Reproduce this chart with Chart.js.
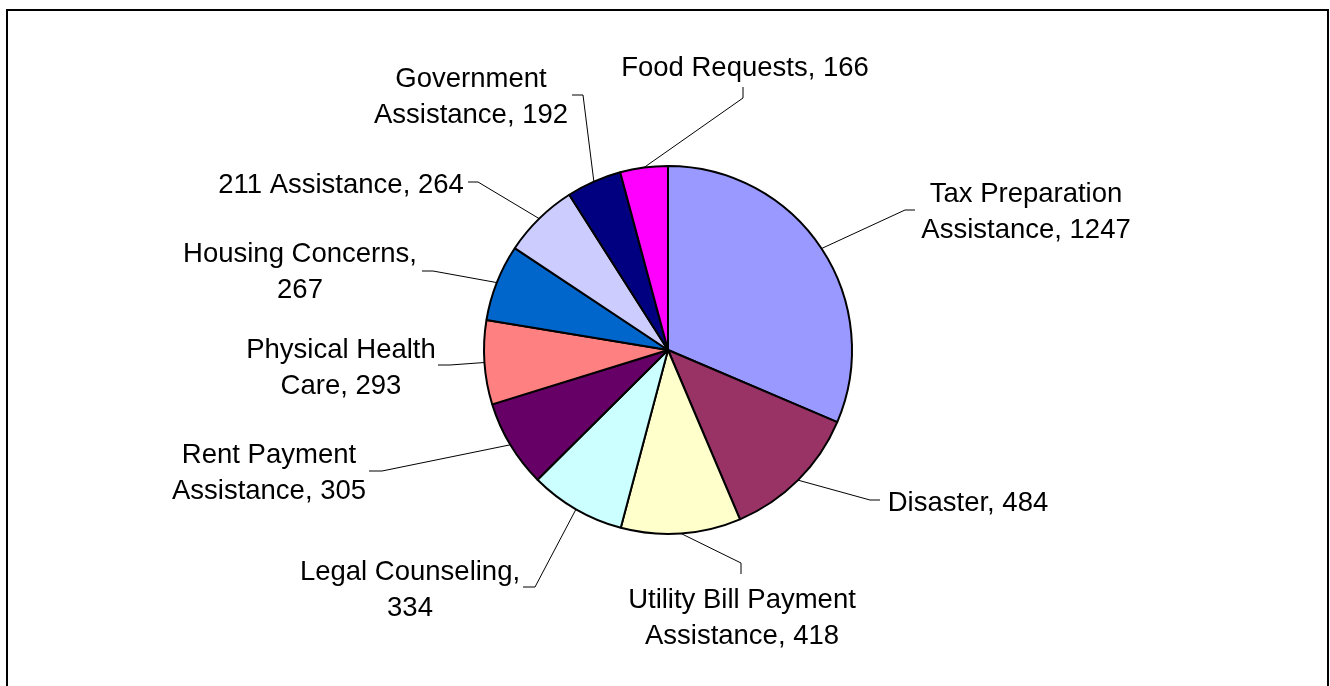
<!DOCTYPE html>
<html>
<head>
<meta charset="utf-8">
<script src="https://cdn.jsdelivr.net/npm/chart.js@4.4.1/dist/chart.umd.min.js"></script>
<style>
  html, body { margin: 0; padding: 0; background: #fff; }
  canvas { display: block; }
</style>
</head>
<body>
<canvas id="pieChart" width="1330" height="686"></canvas>
<script>
// data
const categories = ['Tax Preparation Assistance', 'Disaster', 'Utility Bill Payment Assistance', 'Legal Counseling',
  'Rent Payment Assistance', 'Physical Health Care', 'Housing Concerns', '211 Assistance',
  'Government Assistance', 'Food Requests'];
const requestCounts = [1247, 484, 418, 334, 305, 293, 267, 264, 192, 166];
const sliceColors = ['#9999FF', '#993366', '#FFFFCC', '#CCFFFF', '#660066', '#FF8080', '#0066CC', '#CCCCFF', '#000080', '#FF00FF'];

// label placement, offsets from pie centre: text centre/first baseline, elbow, end of leader
// wrap = number of words on the first line (0 = one line)
const labelLayout = [
  {tx: 358, ty: -148, ex: 237, ey: -140, hx: 247, hy: -140, wrap: 2},
  {tx: 300, ty: 161, ex: 202, ey: 150, hx: 212, hy: 150, wrap: 0},
  {tx: 74, ty: 258, ex: 73, ey: 213, hx: 73, hy: 224, wrap: 3},
  {tx: -258, ty: 230, ex: -133, ey: 237, hx: -145, hy: 237, wrap: 2},
  {tx: -399, ty: 113, ex: -286, ey: 121, hx: -299, hy: 121, wrap: 2},
  {tx: -327, ty: 8, ex: -218, ey: 15, hx: -230, hy: 15, wrap: 2},
  {tx: -368, ty: -88, ex: -235, ey: -79, hx: -246, hy: -79, wrap: 2},
  {tx: -327, ty: -157, ex: -190, ey: -168, hx: -200, hy: -168, wrap: 0},
  {tx: -197, ty: -263, ex: -85, ey: -255, hx: -96, hy: -255, wrap: 1},
  {tx: 77, ty: -274, ex: 75, ey: -252, hx: 75, hy: -263, wrap: 0}
];

const frame = {
  id: 'frame',
  beforeDraw(chart) {
    const ctx = chart.ctx;
    ctx.save();
    ctx.strokeStyle = '#000';
    ctx.lineWidth = 2;
    ctx.strokeRect(7, 10, 1321, 700);
    ctx.restore();
  }
};

const outsideLabels = {
  id: 'outsideLabels',
  afterDatasetsDraw(chart) {
    const ctx = chart.ctx;
    const arcs = chart.getDatasetMeta(0).data;
    ctx.save();
    ctx.font = '27.5px "Liberation Sans", Arial, sans-serif';
    ctx.fillStyle = '#000';
    ctx.textAlign = 'center';
    ctx.textBaseline = 'alphabetic';
    arcs.forEach((arc, i) => {
      const p = arc.getProps(['x', 'y', 'startAngle', 'endAngle', 'outerRadius'], true);
      const mid = (p.startAngle + p.endAngle) / 2;
      const sx = p.x + Math.cos(mid) * p.outerRadius;
      const sy = p.y + Math.sin(mid) * p.outerRadius;
      const l = labelLayout[i];
      ctx.strokeStyle = '#000';
      ctx.lineWidth = 1;
      ctx.beginPath();
      ctx.moveTo(sx, sy);
      ctx.lineTo(p.x + l.ex, p.y + l.ey);
      ctx.lineTo(p.x + l.hx, p.y + l.hy);
      ctx.stroke();

      const words = (categories[i] + ', ' + requestCounts[i]).split(' ');
      const lines = l.wrap ? [words.slice(0, l.wrap).join(' '), words.slice(l.wrap).join(' ')] : [words.join(' ')];
      lines.forEach((t, k) => ctx.fillText(t, p.x + l.tx, p.y + l.ty + k * 36));
    });
    ctx.restore();
  }
};

new Chart(document.getElementById('pieChart'), {
  type: 'pie',
  data: {
    labels: categories,
    datasets: [{
      data: requestCounts,
      backgroundColor: sliceColors,
      borderColor: '#000',
      borderWidth: 2
    }]
  },
  options: {
    responsive: false,
    animation: false,
    devicePixelRatio: 1,
    layout: {padding: {top: 165, bottom: 151, left: 6, right: 0}},
    plugins: {
      legend: {display: false},
      tooltip: {enabled: false}
    }
  },
  plugins: [frame, outsideLabels]
});
</script>
</body>
</html>
